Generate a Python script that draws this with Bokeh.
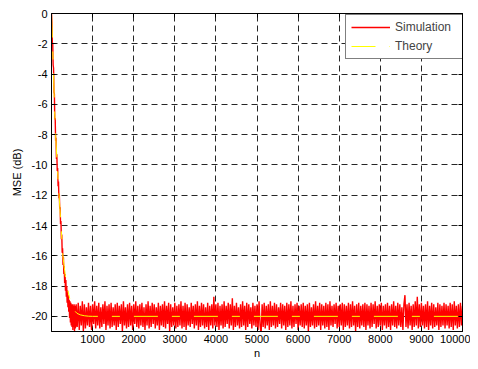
from bokeh.plotting import figure
from bokeh.models import LinearAxis, FixedTicker, Range1d, Legend, LegendItem
from bokeh.embed import file_html
from bokeh.resources import INLINE

# ---------------- data ----------------
x_ticks = [1000, 2000, 3000, 4000, 5000, 6000, 7000, 8000, 9000, 10000]
y_ticks = [0, -2, -4, -6, -8, -10, -12, -14, -16, -18, -20]
y_tick_labels = ["0", "-2", "-4", "-6", "-8", "-10", "-12", "-14", "-16", "-18", "-20"]

# Theory curve (dB)
theory_n = [0, 25, 50, 70, 100, 140, 185, 230, 277, 330, 391, 450, 500, 552,
            620, 700, 800, 900, 1000, 10000]
theory_db = [0, -2, -4, -6, -8, -10, -12, -14, -16, -17.2, -18.2, -18.9, -19.3,
             -19.6, -19.8, -19.9, -19.96, -19.99, -20, -20]

# Simulation, transient part (n = 0, 10, ..., 590)
sim_head_db = [0.0, -0.6, -1.9, -2.0, -3.4, -3.6, -5.2, -5.3, -7.0, -6.9,
               -8.4, -8.2, -9.6, -9.3, -10.4, -10.2, -11.4, -11.1, -12.2, -11.9,
               -12.9, -12.8, -13.9, -13.7, -14.9, -14.6, -15.8, -15.5, -16.6, -16.1,
               -17.2, -16.7, -17.8, -17.2, -18.3, -17.6, -18.7, -18.0, -19.1, -18.3,
               -19.4, -18.6, -19.7, -18.9, -20.1, -19.0, -20.4, -19.1, -20.6, -19.2,
               -20.7, -19.2, -20.9, -19.3, -20.7, -19.2, -21.0, -19.3, -20.8, -20.6]
sim_head_start = 0
sim_head_step = 10

# Simulation, steady-state part (n = 600 ... 10000)
sim_tail_db = [
    -19.2, -20.7, -19.1, -20.9, -19.3, -20.6, -19.0, -21.0, -19.2, -20.8, -19.4, -20.6, -19.1, -20.7, -19.3, -20.9, -19.2, -20.5, -19.0, -20.8,
    -19.3, -20.6, -19.1, -20.8, -19.4, -20.7, -19.2, -20.5, -19.0, -20.9, -19.3, -20.6, -19.2, -20.8, -19.1, -20.7, -19.4, -20.6, -19.2, -20.9,
    -19.1, -20.7, -19.3, -20.5, -19.2, -21.0, -19.0, -20.6, -19.4, -20.8, -19.2, -20.7, -19.1, -20.6, -19.3, -20.9, -19.2, -20.5, -19.0, -20.7,
    -19.3, -20.8, -19.2, -20.6, -19.1, -20.7, -19.4, -20.9, -19.2, -20.6, -19.0, -20.8, -19.3, -20.7, -19.1, -20.5, -19.2, -20.8, -19.4, -20.6,
    -19.1, -20.9, -19.3, -20.6, -19.2, -20.7, -19.0, -20.8, -19.3, -20.5, -19.1, -21.0, -19.2, -20.7, -19.4, -20.6, -19.1, -20.8, -19.3, -20.7,
    -19.2, -20.6, -19.0, -20.8, -19.3, -20.7, -19.1, -20.9, -19.2, -20.6, -19.4, -20.7, -19.1, -20.5, -19.3, -20.8, -19.2, -20.6, -19.0, -20.9,
    -19.3, -20.7, -19.1, -20.6, -19.2, -20.8, -19.4, -20.7, -19.1, -20.9, -19.3, -20.6, -19.2, -20.8, -18.7, -20.6, -19.2, -20.7, -19.1, -20.9,
    -19.3, -20.6, -19.2, -20.8, -19.0, -20.7, -19.3, -20.5, -19.1, -20.8, -19.2, -20.6, -18.8, -20.9, -19.3, -20.7, -19.1, -20.6, -19.4, -20.8,
    -19.2, -20.7, -19.0, -20.6, -19.3, -20.9, -19.1, -20.7, -19.2, -20.5, -19.4, -20.8, -19.1, -20.6, -19.3, -20.7, -19.2, -20.9, -19.0, -20.6,
    -21.2, -19.2, -20.7, -19.1, -20.8, -19.3, -20.6, -19.2, -20.9, -19.0, -20.7, -19.3, -20.6, -19.1, -20.8, -19.2, -20.7, -19.4, -20.5, -19.1,
    -20.8, -19.2, -20.6, -19.3, -20.9, -19.1, -20.7, -19.2, -20.6, -19.0, -20.8, -19.3, -20.7, -19.2, -20.5, -19.1, -20.9, -19.3, -20.6, -19.2,
    -20.7, -19.1, -20.8, -19.3, -20.6, -19.2, -21.0, -19.1, -20.7, -19.4, -20.6, -19.2, -20.8, -19.0, -20.7, -19.3, -20.6, -19.1, -20.9, -19.2,
    -20.6, -19.3, -20.8, -19.1, -20.7, -19.2, -20.9, -19.0, -20.6, -19.3, -20.7, -19.2, -20.5, -19.1, -20.8, -19.3, -20.7, -19.2, -20.6, -19.1,
    -20.9, -19.2, -20.7, -19.3, -20.6, -19.1, -20.8, -19.2, -20.7, -19.0, -20.6, -19.3, -21.0, -19.2, -20.7, -19.1, -20.8, -19.3, -20.6, -19.2,
    -20.7, -19.1, -20.9, -19.2, -20.6, -19.3, -20.8, -19.1, -20.7, -19.2, -20.5, -19.0, -20.8, -19.3, -20.7, -19.2, -20.6, -19.1, -20.9, -19.3,
    -20.6, -19.2, -20.8, -19.1, -20.7, -19.3, -20.9, -19.2, -20.6, -19.0, -20.7, -19.3, -20.8, -19.1, -20.6, -19.2, -20.7, -19.4, -20.9, -19.2,
    -18.6, -20.7, -19.2, -20.8, -19.1, -20.6, -19.3, -20.9, -19.2, -20.7, -19.0, -20.6, -18.7, -20.8, -19.2, -20.7, -19.1, -20.6, -19.3, -20.8,
    -19.2, -20.7, -19.0, -20.9, -19.3, -20.6, -19.1, -20.8, -19.2, -20.7, -19.4, -20.6, -19.1, -20.9, -19.2, -20.7, -19.3, -20.6, -19.1, -20.8,
    -19.2, -20.6, -19.3, -20.8, -19.1, -20.7, -19.2, -20.9, -19.0, -20.6, -19.3, -20.8, -19.2, -20.7, -19.1, -20.6, -19.3,
]
sim_tail_start = 600
sim_tail_end = 10000

# ---------------- build series ----------------
sim_n = [sim_head_start + sim_head_step * i for i in range(len(sim_head_db))]
tail_step = (sim_tail_end - sim_tail_start) / (len(sim_tail_db) - 1)
sim_n += [sim_tail_start + tail_step * i for i in range(len(sim_tail_db))]
sim_db = sim_head_db + sim_tail_db

FONT = "Liberation Sans"
FS = "11px"
RED = "#FF0000"
YELLOW = "#FFFF00"
THEORY_DASH = "24 14 8 14"

p = figure(width=470, height=361, output_backend="svg", toolbar_location=None,
           x_range=Range1d(0, 10000), y_range=Range1d(-21, 0),
           min_border_left=51, min_border_right=8, min_border_top=13,
           min_border_bottom=29)
p.background_fill_color = "white"
p.border_fill_color = "white"
p.outline_line_color = "black"
p.outline_line_width = 1

r_sim = p.line(sim_n, sim_db, line_color=RED, line_width=1.4)
r_th = p.line(theory_n, theory_db, line_color=YELLOW, line_width=1,
              line_dash=THEORY_DASH)

# axes
for ax in p.xaxis:
    ax.ticker = FixedTicker(ticks=x_ticks)
    ax.axis_label = "n"
for ax in p.yaxis:
    ax.ticker = FixedTicker(ticks=y_ticks)
    ax.axis_label = "MSE (dB)"
    ax.major_label_overrides = dict(zip(y_ticks, y_tick_labels))

for ax in list(p.xaxis) + list(p.yaxis):
    ax.major_label_text_font = FONT
    ax.major_label_text_font_size = FS
    ax.major_label_text_color = "black"
    ax.axis_label_text_font = FONT
    ax.axis_label_text_font_size = FS
    ax.axis_label_text_font_style = "normal"
    ax.axis_label_text_color = "black"
    ax.major_tick_in = 4
    ax.major_tick_out = 0
    ax.minor_tick_line_color = None
    ax.axis_line_color = "black"
    ax.major_tick_line_color = "black"
p.xaxis.major_label_standoff = 3
p.xaxis.axis_label_standoff = 1
p.yaxis.major_label_standoff = 4
p.yaxis.axis_label_standoff = 6

# mirrored ticks on top and right
top = LinearAxis(ticker=FixedTicker(ticks=x_ticks), major_tick_in=4, major_tick_out=0,
                 minor_tick_line_color=None, major_label_text_font_size="1px",
                 major_label_text_alpha=0, major_label_standoff=0,
                 axis_line_color="black")
right = LinearAxis(ticker=FixedTicker(ticks=y_ticks), major_tick_in=4, major_tick_out=0,
                   minor_tick_line_color=None, major_label_text_font_size="1px",
                   major_label_text_alpha=0, major_label_standoff=0,
                   axis_line_color="black")
p.add_layout(top, "above")
p.add_layout(right, "right")

# grid
p.xgrid.ticker = FixedTicker(ticks=x_ticks)
p.ygrid.ticker = FixedTicker(ticks=y_ticks)
for g in (p.xgrid, p.ygrid):
    g.grid_line_color = "black"
    g.grid_line_dash = "6 4"
    g.grid_line_width = 1
    g.grid_line_alpha = 0.85

legend = Legend(items=[LegendItem(label="Simulation", renderers=[r_sim]),
                       LegendItem(label="Theory", renderers=[r_th])],
                location=(294, 272), margin=0, padding=5, spacing=5,
                glyph_width=39, glyph_height=12, label_height=12, label_width=62,
                label_standoff=5, label_text_font=FONT, label_text_font_size="12px",
                border_line_color="black", border_line_width=1,
                background_fill_color="white", background_fill_alpha=1)
p.add_layout(legend, "center")

open("out.html", "w").write(file_html(p, INLINE))
